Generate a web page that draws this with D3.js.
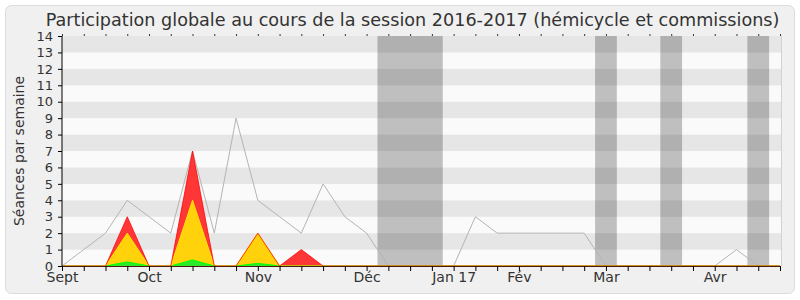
<!DOCTYPE html>
<html>
<head>
<meta charset="utf-8">
<script src="https://cdn.jsdelivr.net/npm/d3@7"></script>
<style>
  html, body { margin: 0; padding: 0; background: #fff; }
  svg { display: block; font-family: 'DejaVu Sans', sans-serif; }
</style>
</head>
<body>
<div id="chart"></div>
<script>
// Weekly participation, session 2016-2017 (week index 0 = first week of Sept)
const weeks = d3.range(34);
const presenceTotal     = [0,0,0,3,0,0,7,0,0,2,0,1,0,0,0,0,0,0,0,0,0,0,0,0,0,0,0,0,0,0,0,0,0,0];
const presenceHemicycle = [0,0,0,2,0,0,4,0,0,2,0,0,0,0,0,0,0,0,0,0,0,0,0,0,0,0,0,0,0,0,0,0,0,0];
const interventions     = [0,0,0,0.25,0,0,0.37,0,0,0.16,0,0,0,0,0,0,0,0,0,0,0,0,0,0,0,0,0,0,0,0,0,0,0,0];
const medianDeputes     = [0,1,2,4,3,2,7,2,9,4,3,2,5,3,2,0,0,0,0,3,2,2,2,2,2,0,0,0,0,0,0,1,0,0];

// Parliamentary holidays, in week units
const vacations = [[14.5, 17.5], [24.5, 25.5], [27.5, 28.5], [31.5, 32.5]];

const monthWeeks  = [0, 4, 9, 14, 18, 21, 25, 30];
const monthLabels = ['Sept', 'Oct', 'Nov', 'Déc', 'Jan 17', 'Fév', 'Mar', 'Avr'];

const yTicks = d3.range(0, 15);
const TITLE = 'Participation globale au cours de la session 2016-2017 (hémicycle et commissions)';

const W = 800, H = 300;
const margin = { top: 36, right: 20, bottom: 34, left: 62 };

const svg = d3.select('#chart').append('svg')
  .attr('width', W).attr('height', H);

// Outer frame
svg.append('rect')
  .attr('x', 5.5).attr('y', 5.5)
  .attr('width', 789).attr('height', 288)
  .attr('rx', 6)
  .attr('fill', '#f0f0f0')
  .attr('stroke', '#dcdcdc');

const x = d3.scaleLinear().domain([0, 33]).range([margin.left, W - margin.right]);
const y = d3.scaleLinear().domain([0, 14]).range([H - margin.bottom, margin.top]);

// Horizontal stripes
svg.append('g').selectAll('rect')
  .data(d3.range(14))
  .enter().append('rect')
  .attr('x', x(0)).attr('width', x(33) - x(0) + 1)
  .attr('y', d => y(d + 1)).attr('height', d => y(d) - y(d + 1))
  .attr('fill', d => d % 2 === 0 ? '#fafafa' : '#e6e6e6');

// right border of plot
svg.append('line')
  .attr('x1', x(33) + 1.5).attr('x2', x(33) + 1.5)
  .attr('y1', y(14)).attr('y2', y(0))
  .attr('stroke', '#d2d2d2');

// Vacation bands
svg.append('g').selectAll('rect')
  .data(vacations)
  .enter().append('rect')
  .attr('x', d => x(d[0])).attr('width', d => x(d[1]) - x(d[0]))
  .attr('y', y(14)).attr('height', y(0) - y(14))
  .attr('fill', '#000').attr('fill-opacity', 0.235);

// Median line (behind the areas)
const line = d3.line().x((d, i) => x(i)).y(d => y(d));
svg.append('path').datum(medianDeputes)
  .attr('d', line)
  .attr('fill', 'none')
  .attr('stroke', '#b4b4b4')
  .attr('stroke-width', 1);

// Areas (overlapping, drawn back to front), outlines drawn afterwards
const area = d3.area().x((d, i) => x(i)).y0(y(0)).y1(d => y(d));
const layers = [
  { data: presenceTotal,     fill: '#ff3636', stroke: '#ff0000', op: 0.75 },
  { data: presenceHemicycle, fill: '#ffd20c', stroke: '#ffe600', op: 1 },
  { data: interventions,     fill: '#2ee82e', stroke: '#00ff00', op: 1 },
];
layers.forEach(l => {
  svg.append('path').datum(l.data)
    .attr('d', area)
    .attr('fill', l.fill);
});
layers.slice().reverse().forEach(l => {
  svg.append('path').datum(l.data)
    .attr('d', line)
    .attr('fill', 'none')
    .attr('stroke', l.stroke)
    .attr('stroke-opacity', l.op)
    .attr('stroke-width', 1);
});

// Axes
const labelOf = d => { const k = monthWeeks.indexOf(d); return k >= 0 ? monthLabels[k] : ''; };

const xAxis = svg.append('g')
  .attr('transform', `translate(0,${y(0)})`)
  .call(d3.axisBottom(x).tickValues(weeks).tickFormat(labelOf).tickSize(5).tickPadding(1));
xAxis.select('.domain').attr('stroke', '#4a1a0c');

const xTop = svg.append('g')
  .attr('transform', `translate(0,${y(14)})`)
  .call(d3.axisTop(x).tickValues(weeks).tickFormat('').tickSize(2));
xTop.select('.domain').remove();
xTop.selectAll('line').attr('stroke', '#333');

const yAxis = svg.append('g')
  .attr('transform', `translate(${x(0)},0)`)
  .call(d3.axisLeft(y).tickValues(yTicks).tickFormat(d3.format('d')).tickSize(4).tickPadding(5));
yAxis.select('.domain').attr('d', `M0,${y(14)}V${y(0)}`);

svg.selectAll('.tick text')
  .attr('font-family', "'DejaVu Sans', sans-serif")
  .attr('font-size', 14)
  .attr('fill', '#333');
yAxis.selectAll('.tick text').attr('font-size', 13);

// Y axis title
svg.append('text')
  .attr('transform', `translate(24,${(y(0) + y(14)) / 2}) rotate(-90)`)
  .attr('text-anchor', 'middle')
  .attr('font-size', 14)
  .attr('fill', '#333')
  .text('Séances par semaine');

// Title
svg.append('text')
  .attr('x', 412.5).attr('y', 25.7)
  .attr('text-anchor', 'middle')
  .attr('font-size', 17.6)
  .attr('fill', '#333')
  .text(TITLE);
</script>
</body>
</html>
